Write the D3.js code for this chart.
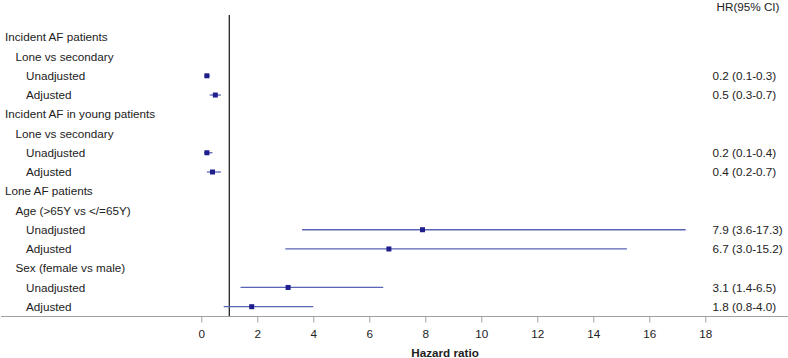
<!DOCTYPE html>
<html>
<head>
<meta charset="utf-8">
<script src="https://cdn.jsdelivr.net/npm/d3@7"></script>
<style>
	body { margin: 0; background: #fff; }
	text { font-family: "Liberation Sans", Arial, sans-serif; fill: #222; }
</style>
</head>
<body>
<div id="chart"></div>
<script>
var labels = [
	"Incident AF patients", "Lone vs secondary", "Unadjusted", "Adjusted",
	"Incident AF in young patients", "Lone vs secondary", "Unadjusted", "Adjusted",
	"Lone AF patients", "Age (>65Y vs </=65Y)", "Unadjusted", "Adjusted",
	"Sex (female vs male)", "Unadjusted", "Adjusted"
];
var levels = [0, 1, 2, 2, 0, 1, 2, 2, 0, 1, 2, 2, 1, 2, 2];
var hr    = [null, null, 0.2, 0.5, null, null, 0.2, 0.4, null, null, 7.9, 6.7, null, 3.1, 1.8];
var lower = [null, null, 0.1, 0.3, null, null, 0.1, 0.2, null, null, 3.6, 3.0, null, 1.4, 0.8];
var upper = [null, null, 0.3, 0.7, null, null, 0.4, 0.7, null, null, 17.3, 15.2, null, 6.5, 4.0];
var tickValues = [0, 2, 4, 6, 8, 10, 12, 14, 16, 18];
var refValue = 1;

var width = 788, height = 358;
var fontSize = 11.7;

var svg = d3.select("#chart").append("svg")
	.attr("width", width)
	.attr("height", height);

var x = d3.scaleLinear()
	.domain([0, 18])
	.range([201.3, 705.3]);

var y = d3.scalePoint()
	.domain(d3.range(labels.length))
	.range([37.3, 306.7]);

var axisY = 316;

// axis line across the whole width
svg.append("line")
	.attr("x1", 1).attr("x2", width)
	.attr("y1", axisY + 0.5).attr("y2", axisY + 0.5)
	.style("stroke", "#a0a0a0")
	.style("stroke-width", 1);

var axis = svg.append("g")
	.attr("transform", "translate(0," + (axisY + 0.5) + ")")
	.call(d3.axisBottom(x).tickValues(tickValues).tickSize(6).tickPadding(7));
axis.select(".domain").remove();
axis.selectAll(".tick line").style("stroke", "#a0a0a0");
axis.selectAll(".tick text")
	.style("font-family", "'Liberation Sans', Arial, sans-serif")
	.style("font-size", fontSize + "px")
	.style("fill", "#222");

svg.append("text")
	.attr("x", 445)
	.attr("y", 356.5)
	.attr("text-anchor", "middle")
	.style("font-size", fontSize + "px")
	.style("font-weight", "bold")
	.text("Hazard ratio");

// reference line at HR = 1
svg.append("line")
	.attr("x1", x(refValue)).attr("x2", x(refValue))
	.attr("y1", 15).attr("y2", axisY)
	.style("stroke", "#222")
	.style("stroke-width", 1.3);

// row labels
svg.append("g").selectAll("text")
		.data(labels)
	.enter().append("text")
		.attr("x", function(d, i) { return 5 + levels[i] * 10.5; })
		.attr("y", function(d, i) { return y(i); })
		.attr("dy", ".35em")
		.style("font-size", fontSize + "px")
		.text(function(d) { return d; });

var rows = d3.range(labels.length).filter(function(i) { return hr[i] !== null; });

// confidence intervals
svg.append("g").selectAll("line")
		.data(rows)
	.enter().append("line")
		.attr("x1", function(i) { return x(lower[i]); })
		.attr("x2", function(i) { return x(upper[i]); })
		.attr("y1", function(i) { return y(i); })
		.attr("y2", function(i) { return y(i); })
		.style("stroke", "#5a64b4")
		.style("stroke-width", 1.3);

// point estimates
svg.append("g").selectAll("rect")
		.data(rows)
	.enter().append("rect")
		.attr("x", function(i) { return x(hr[i]) - 2.5; })
		.attr("y", function(i) { return y(i) - 2.5; })
		.attr("width", 5)
		.attr("height", 5)
		.style("fill", "#1e1e8c");

// HR column
svg.append("text")
	.attr("x", 716.5)
	.attr("y", 7.3)
	.attr("dy", ".35em")
	.style("font-size", fontSize + "px")
	.text("HR(95% CI)");

svg.append("g").selectAll("text")
		.data(rows)
	.enter().append("text")
		.attr("x", 712.5)
		.attr("y", function(i) { return y(i); })
		.attr("dy", ".35em")
		.style("font-size", fontSize + "px")
		.text(function(i) {
			return hr[i].toFixed(1) + " (" + lower[i].toFixed(1) + "-" + upper[i].toFixed(1) + ")";
		});
</script>
</body>
</html>
